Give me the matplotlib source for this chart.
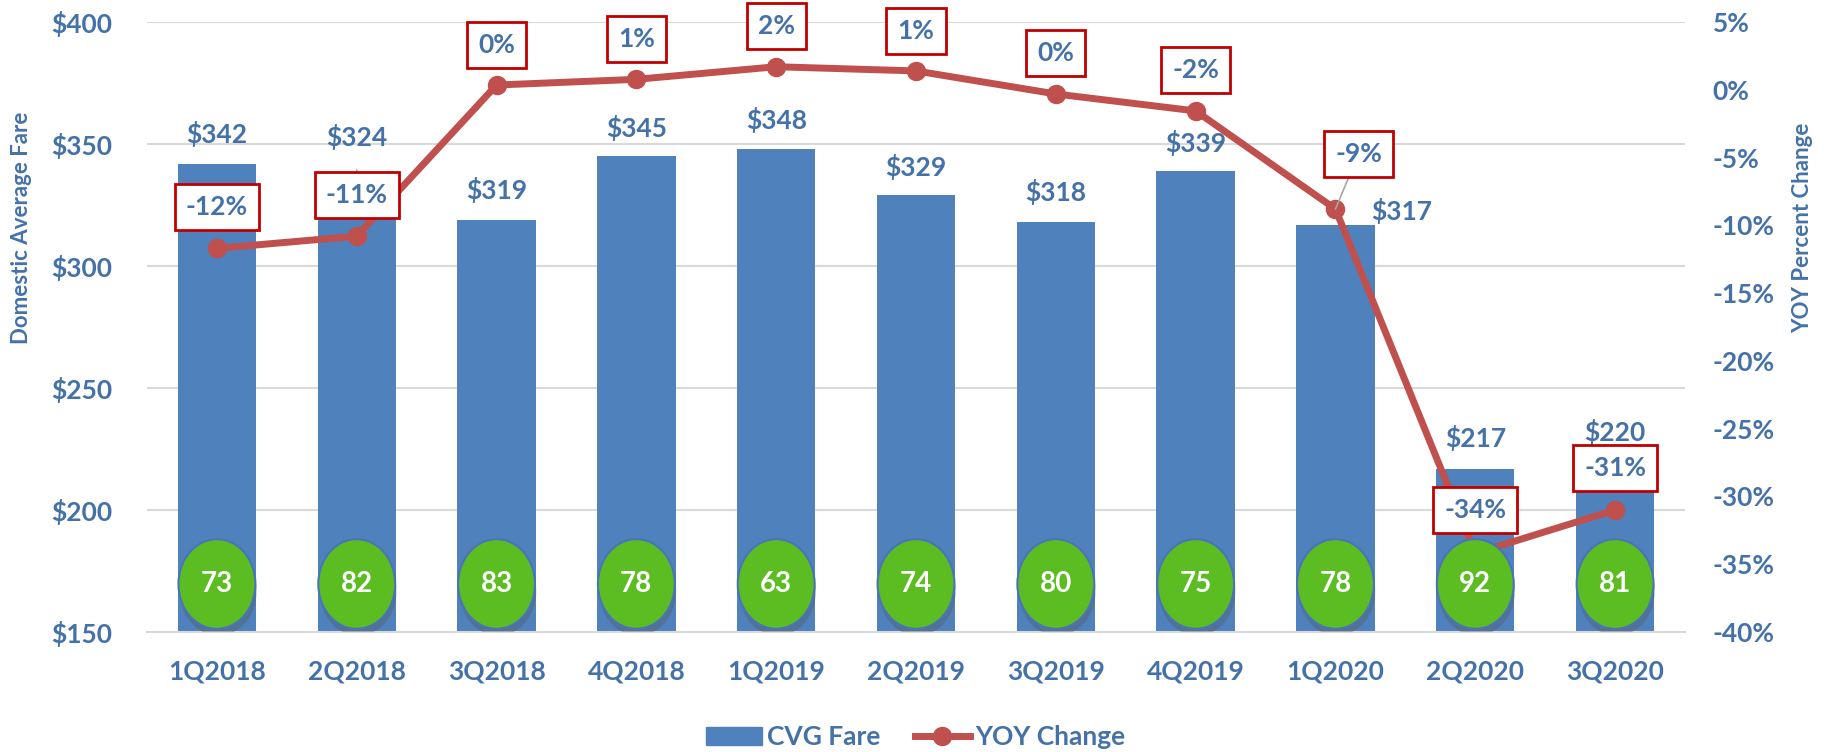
import matplotlib
matplotlib.use("Agg")
import matplotlib.pyplot as plt
from matplotlib.patches import Ellipse, Patch
from matplotlib.lines import Line2D
from matplotlib.transforms import blended_transform_factory
import matplotlib.patheffects as pe

plt.rcParams['font.family'] = ['Lato', 'DejaVu Sans']

# ---- data ----
quarters = ["1Q2018", "2Q2018", "3Q2018", "4Q2018", "1Q2019", "2Q2019",
            "3Q2019", "4Q2019", "1Q2020", "2Q2020", "3Q2020"]
cvg_fare = [342, 324, 319, 345, 348, 329, 318, 339, 317, 217, 220]
yoy_change = [-11.7, -10.8, 0.35, 0.77, 1.7, 1.39, -0.31, -1.56, -8.8, -34.2, -31.0]
yoy_labels = ["-12%", "-11%", "0%", "1%", "2%", "1%", "0%", "-2%", "-9%", "-34%", "-31%"]
rank_values = [73, 82, 83, 78, 63, 74, 80, 75, 78, 92, 81]

left_ticks = [150, 200, 250, 300, 350, 400]
right_ticks = [5, 0, -5, -10, -15, -20, -25, -30, -35, -40]

# ---- styles / placement ----
BAR = "#4F81BD"
LINE = "#C0504D"
TXT = "#4472A8"
GRID = "#D9D9D9"
BOXRED = "#C00000"
GREEN = "#5CBD22"
PX = 0.72  # points per pixel at dpi 100
FS = 19

# label offsets (pixels) for fare labels: (dx, dy) from bar top
fare_off = [(0, 30), (0, 70), (0, 30), (0, 28), (0, 29), (0, 28),
            (0, 30), (0, 28), (66, 14), (0, 31), (0, 29)]
# label offsets (pixels) for YOY boxes from the point
yoy_off = [(0, 41), (0, 41), (0, 40), (0, 40), (0, 41), (0, 40),
           (0, 41), (0, 41), (23, 55), (0, 43), (0, 42)]

fig = plt.figure(figsize=(18.25, 7.52), dpi=100)
ax = fig.add_axes([147/1825, 120/752, 1538/1825, 610/752])
ax2 = ax.twinx()

x = list(range(len(quarters)))
ax.bar(x, cvg_fare, width=0.56, color=BAR, zorder=2)
ax.set_ylim(150, 400)
ax.set_xlim(-0.5, len(quarters) - 0.5)
ax.set_yticks(left_ticks)
ax.set_yticklabels([f"${v}" for v in left_ticks])
ax.set_xticks(x)
ax.set_xticklabels(quarters)
ax.grid(axis='y', color=GRID, linewidth=1.5, zorder=0)
ax.set_axisbelow(True)
for s in ["top", "left", "right"]:
    ax.spines[s].set_visible(False)
ax.spines["bottom"].set_color(GRID)
ax.spines["bottom"].set_linewidth(1.5)
ax.tick_params(axis='y', length=0, pad=25, labelsize=FS, labelcolor=TXT)
ax.tick_params(axis='x', length=0, pad=20, labelsize=FS, labelcolor=TXT)
for lab in ax.get_xticklabels() + ax.get_yticklabels():
    lab.set_fontweight('bold')
ax.set_ylabel("Domestic Average Fare", fontsize=16, color=TXT, fontweight='bold')
ax.yaxis.set_label_coords(-0.0748, 0.662)

# YOY line
ax2.plot(x, yoy_change, color=LINE, linewidth=5, marker='o', markersize=13,
         zorder=3, solid_capstyle='round')
ax2.set_ylim(-40, 5)
ax2.set_yticks(right_ticks)
ax2.set_yticklabels([f"{v}%" for v in right_ticks])
for s in ["top", "left", "right", "bottom"]:
    ax2.spines[s].set_visible(False)
ax2.tick_params(axis='y', length=0, pad=20, labelsize=FS, labelcolor=TXT)
for lab in ax2.get_yticklabels():
    lab.set_fontweight('bold')
ax2.set_ylabel("YOY Percent Change", fontsize=16, color=TXT, fontweight='bold')
ax2.yaxis.set_label_coords(1.0696, 0.662)

# fare labels
for i, v in enumerate(cvg_fare):
    dx, dy = fare_off[i]
    kw = {}
    if i == 1:
        kw = dict(arrowprops=dict(arrowstyle='-', color='#A6A6A6', lw=1.2,
                                  shrinkA=12, shrinkB=0))
    ax2.annotate(f"${v}", xy=(i, v), xycoords=ax.transData,
                 xytext=(dx * PX, dy * PX), textcoords='offset points',
                 ha='center', va='center', fontsize=FS, fontweight='bold', color=TXT,
                 zorder=4, annotation_clip=False, **kw)

# YOY labels
for i, (v, lab) in enumerate(zip(yoy_change, yoy_labels)):
    dx, dy = yoy_off[i]
    kw = {}
    if dx != 0:
        kw = dict(arrowprops=dict(arrowstyle='-', color='#A6A6A6', lw=1.2,
                                  shrinkA=0, shrinkB=0))
    ax2.annotate(lab, xy=(i, v), xycoords='data',
                 xytext=(dx * PX, dy * PX), textcoords='offset points',
                 ha='center', va='center', fontsize=FS, fontweight='bold', color=TXT,
                 bbox=dict(boxstyle='square,pad=0.42', fc='white', ec=BOXRED, lw=2),
                 zorder=5, annotation_clip=False, **kw)

# green rank ellipses
trans = blended_transform_factory(ax2.transData, ax2.transAxes)
for i, r in enumerate(rank_values):
    e = Ellipse((i, 0.0787), width=0.55, height=0.147, transform=trans,
                facecolor=GREEN, edgecolor="#4A74B8", linewidth=1.5, zorder=6)
    e.set_path_effects([pe.SimplePatchShadow(offset=(1, -5), alpha=0.35, shadow_rgbFace='#555555'),
                        pe.Normal()])
    ax2.add_patch(e)
    ax2.text(i, 0.0787, str(r), transform=trans, ha='center', va='center',
             fontsize=20, fontweight='bold', color='white', zorder=7)

# legend
handles = [Patch(facecolor=BAR, edgecolor=BAR),
           Line2D([0], [0], color=LINE, linewidth=5, marker='o', markersize=13)]
leg = fig.legend(handles, ["CVG Fare", "YOY Change"], loc='center',
                 bbox_to_anchor=(916/1825, 1 - 737/752), ncol=2, frameon=False,
                 handlelength=2.1, handleheight=0.7, columnspacing=1.3, handletextpad=0.2,
                 prop=dict(size=FS, weight='bold'))
for t in leg.get_texts():
    t.set_color(TXT)

fig.savefig("out.png", dpi=100)
